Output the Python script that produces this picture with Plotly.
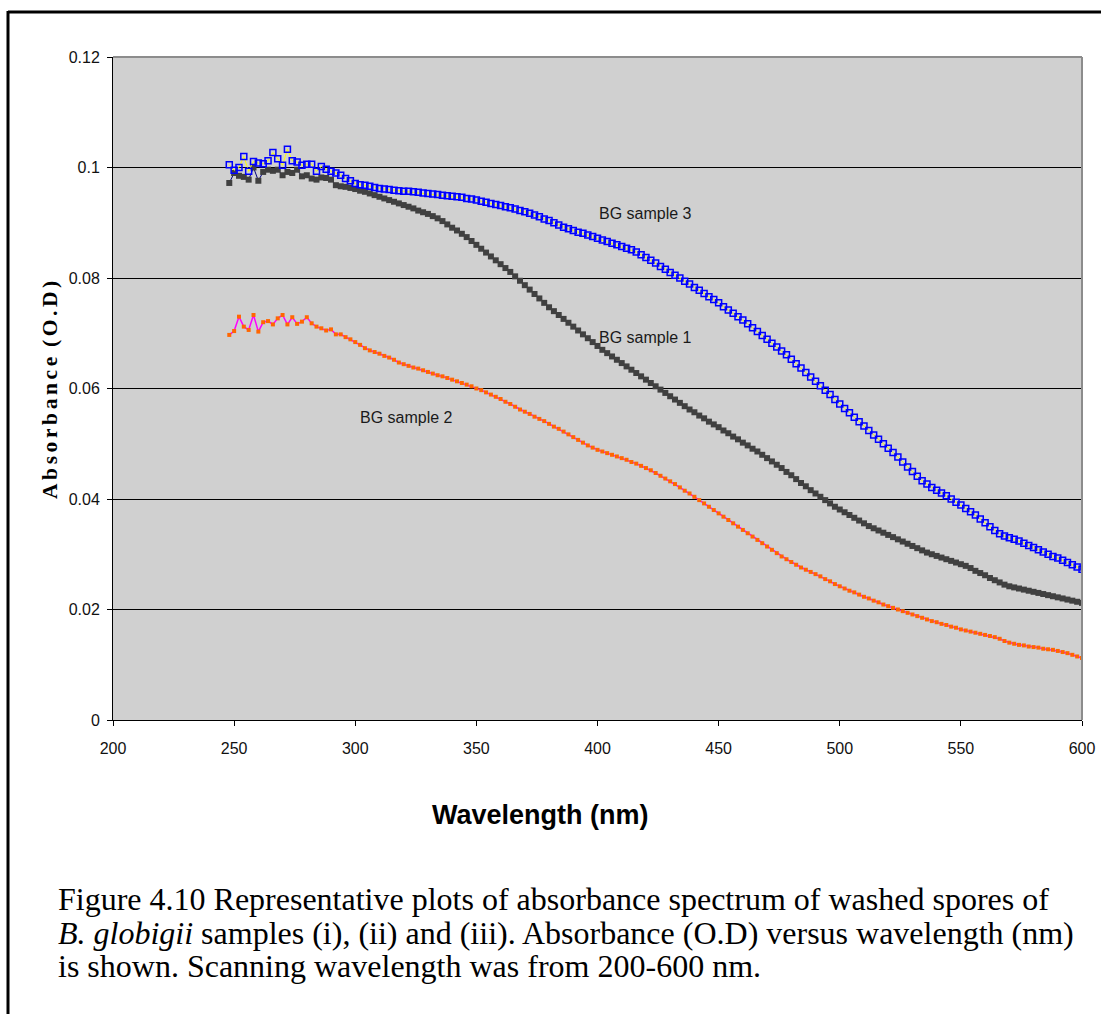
import plotly.graph_objects as go

# Scan grid (nm)
wavelength_nm = list(range(248, 601, 2))

# BG sample 1 absorbance (O.D)
bg_sample_1 = [
    0.0972,
    0.0990, 0.0985, 0.0983, 0.0978, 0.1000, 0.0976, 0.0992, 0.0996, 0.0994, 0.0996,  # 250-268
    0.0986, 0.0992, 0.0990, 0.0996, 0.0984, 0.0986, 0.0980, 0.0978, 0.0982, 0.0981,  # 270-288
    0.0978, 0.0968, 0.0966, 0.0965, 0.0963, 0.0961, 0.0958, 0.0956, 0.0953, 0.0950,  # 290-308
    0.0947, 0.0944, 0.0941, 0.0938, 0.0935, 0.0932, 0.0929, 0.0926, 0.0922, 0.0919,  # 310-328
    0.0916, 0.0912, 0.0908, 0.0903, 0.0897, 0.0891, 0.0886, 0.0880, 0.0874, 0.0867,  # 330-348
    0.0860, 0.0853, 0.0846, 0.0839, 0.0832, 0.0825, 0.0818, 0.0811, 0.0803, 0.0795,  # 350-368
    0.0787, 0.0779, 0.0771, 0.0763, 0.0755, 0.0747, 0.0740, 0.0733, 0.0726, 0.0719,  # 370-388
    0.0712, 0.0705, 0.0698, 0.0691, 0.0684, 0.0677, 0.0670, 0.0664, 0.0658, 0.0652,  # 390-408
    0.0646, 0.0640, 0.0634, 0.0628, 0.0622, 0.0616, 0.0610, 0.0604, 0.0598, 0.0592,  # 410-428
    0.0586, 0.0580, 0.0574, 0.0568, 0.0562, 0.0557, 0.0551, 0.0546, 0.0540, 0.0535,  # 430-448
    0.0530, 0.0524, 0.0519, 0.0513, 0.0508, 0.0502, 0.0497, 0.0491, 0.0486, 0.0480,  # 450-468
    0.0474, 0.0468, 0.0462, 0.0456, 0.0449, 0.0443, 0.0436, 0.0429, 0.0423, 0.0416,  # 470-488
    0.0410, 0.0404, 0.0398, 0.0392, 0.0386, 0.0381, 0.0376, 0.0371, 0.0366, 0.0361,  # 490-508
    0.0356, 0.0351, 0.0347, 0.0343, 0.0339, 0.0335, 0.0331, 0.0327, 0.0323, 0.0319,  # 510-528
    0.0315, 0.0311, 0.0307, 0.0303, 0.0300, 0.0297, 0.0294, 0.0291, 0.0288, 0.0285,  # 530-548
    0.0282, 0.0279, 0.0275, 0.0270, 0.0266, 0.0262, 0.0257, 0.0253, 0.0249, 0.0245,  # 550-568
    0.0242, 0.0240, 0.0238, 0.0236, 0.0234, 0.0232, 0.0230, 0.0228, 0.0226, 0.0224,  # 570-588
    0.0222, 0.0220, 0.0218, 0.0216, 0.0214, 0.0212,                                  # 590-600
]

# BG sample 2 absorbance (O.D)
bg_sample_2 = [
    0.0697,
    0.0704, 0.0730, 0.0712, 0.0706, 0.0733, 0.0703, 0.0720, 0.0722, 0.0716, 0.0727,  # 250-268
    0.0733, 0.0716, 0.0729, 0.0717, 0.0721, 0.0729, 0.0718, 0.0712, 0.0709, 0.0705,  # 270-288
    0.0707, 0.0698, 0.0698, 0.0693, 0.0689, 0.0684, 0.0679, 0.0673, 0.0669, 0.0666,  # 290-308
    0.0663, 0.0659, 0.0656, 0.0652, 0.0647, 0.0644, 0.0641, 0.0638, 0.0636, 0.0633,  # 310-328
    0.0630, 0.0627, 0.0624, 0.0622, 0.0619, 0.0616, 0.0613, 0.0610, 0.0607, 0.0604,  # 330-348
    0.0600, 0.0597, 0.0593, 0.0589, 0.0585, 0.0581, 0.0576, 0.0572, 0.0567, 0.0562,  # 350-368
    0.0558, 0.0554, 0.0549, 0.0545, 0.0541, 0.0536, 0.0531, 0.0527, 0.0522, 0.0517,  # 370-388
    0.0512, 0.0507, 0.0502, 0.0497, 0.0493, 0.0489, 0.0486, 0.0483, 0.0480, 0.0477,  # 390-408
    0.0474, 0.0471, 0.0467, 0.0464, 0.0460, 0.0456, 0.0452, 0.0447, 0.0442, 0.0437,  # 410-428
    0.0432, 0.0427, 0.0421, 0.0415, 0.0410, 0.0404, 0.0398, 0.0392, 0.0386, 0.0380,  # 430-448
    0.0374, 0.0368, 0.0362, 0.0356, 0.0350, 0.0344, 0.0338, 0.0332, 0.0326, 0.0320,  # 450-468
    0.0314, 0.0308, 0.0302, 0.0296, 0.0291, 0.0286, 0.0281, 0.0276, 0.0272, 0.0268,  # 470-488
    0.0264, 0.0260, 0.0255, 0.0251, 0.0246, 0.0242, 0.0238, 0.0234, 0.0231, 0.0227,  # 490-508
    0.0223, 0.0220, 0.0216, 0.0213, 0.0209, 0.0206, 0.0203, 0.0200, 0.0197, 0.0194,  # 510-528
    0.0191, 0.0188, 0.0185, 0.0182, 0.0179, 0.0177, 0.0174, 0.0172, 0.0169, 0.0167,  # 530-548
    0.0164, 0.0162, 0.0160, 0.0158, 0.0156, 0.0154, 0.0152, 0.0150, 0.0147, 0.0143,  # 550-568
    0.0140, 0.0138, 0.0136, 0.0135, 0.0133, 0.0132, 0.0131, 0.0129, 0.0128, 0.0127,  # 570-588
    0.0125, 0.0123, 0.0121, 0.0118, 0.0115, 0.0112,                                  # 590-600
]

# BG sample 3 absorbance (O.D)
bg_sample_3 = [
    0.1005,
    0.0995, 0.1000, 0.1020, 0.0993, 0.1011, 0.1008, 0.1007, 0.1012, 0.1027, 0.1016,  # 250-268
    0.1004, 0.1033, 0.1012, 0.1010, 0.1004, 0.1006, 0.1006, 0.0993, 0.1002, 0.0997,  # 270-288
    0.0993, 0.0990, 0.0986, 0.0980, 0.0976, 0.0971, 0.0969, 0.0968, 0.0966, 0.0964,  # 290-308
    0.0962, 0.0961, 0.0960, 0.0959, 0.0958, 0.0957, 0.0957, 0.0956, 0.0955, 0.0954,  # 310-328
    0.0953, 0.0952, 0.0951, 0.0950, 0.0949, 0.0948, 0.0947, 0.0946, 0.0944, 0.0943,  # 330-348
    0.0941, 0.0939, 0.0937, 0.0935, 0.0933, 0.0931, 0.0929, 0.0927, 0.0925, 0.0922,  # 350-368
    0.0920, 0.0917, 0.0914, 0.0911, 0.0907, 0.0904, 0.0900, 0.0896, 0.0892, 0.0889,  # 370-388
    0.0886, 0.0883, 0.0881, 0.0878, 0.0875, 0.0872, 0.0869, 0.0866, 0.0863, 0.0860,  # 390-408
    0.0857, 0.0854, 0.0851, 0.0847, 0.0842, 0.0837, 0.0832, 0.0827, 0.0821, 0.0816,  # 410-428
    0.0810, 0.0805, 0.0800, 0.0794, 0.0789, 0.0783, 0.0778, 0.0772, 0.0766, 0.0761,  # 430-448
    0.0755, 0.0748, 0.0742, 0.0736, 0.0730, 0.0724, 0.0717, 0.0710, 0.0703, 0.0696,  # 450-468
    0.0689, 0.0682, 0.0675, 0.0668, 0.0661, 0.0653, 0.0645, 0.0637, 0.0629, 0.0621,  # 470-488
    0.0613, 0.0605, 0.0597, 0.0589, 0.0580, 0.0572, 0.0564, 0.0556, 0.0548, 0.0540,  # 490-508
    0.0532, 0.0524, 0.0516, 0.0508, 0.0500, 0.0492, 0.0484, 0.0476, 0.0467, 0.0458,  # 510-528
    0.0450, 0.0441, 0.0433, 0.0427, 0.0421, 0.0416, 0.0411, 0.0406, 0.0400, 0.0394,  # 530-548
    0.0389, 0.0383, 0.0377, 0.0371, 0.0364, 0.0357, 0.0350, 0.0343, 0.0337, 0.0333,  # 550-568
    0.0330, 0.0327, 0.0324, 0.0320, 0.0316, 0.0312, 0.0308, 0.0304, 0.0300, 0.0296,  # 570-588
    0.0293, 0.0289, 0.0285, 0.0281, 0.0277, 0.0273,                                  # 590-600
]

x_ticks = [200, 250, 300, 350, 400, 450, 500, 550, 600]
y_ticks = [0, 0.02, 0.04, 0.06, 0.08, 0.1, 0.12]
y_tick_text = ["0", "0.02", "0.04", "0.06", "0.08", "0.1", "0.12"]

# Series labels: (text, wavelength, absorbance)
series_labels = [
    ("BG sample 3", 420, 0.0916),
    ("BG sample 1", 420, 0.0693),
    ("BG sample 2", 321, 0.0548),
]

caption_lines = [
    "Figure 4.10 Representative plots of absorbance spectrum of washed spores of",
    "<i>B. globigii</i> samples (i), (ii) and (iii). Absorbance (O.D) versus wavelength (nm)",
    "is shown. Scanning wavelength was from 200-600 nm.",
]

W, H = 1101, 1014
L, R, T, B = 113, 1082, 57, 720  # plot area in pixels


def px(xp):
    return (xp - L) / (R - L)


def py(yp):
    return (B - yp) / (B - T)


def spaced(word, gap="\u200a\u200a"):
    # letter-spaced text built from hair spaces
    return gap.join(word)


SANS = "Liberation Sans, Arial, sans-serif"
SERIF = "Liberation Serif, Times New Roman, serif"

fig = go.Figure()

fig.add_trace(go.Scatter(
    x=wavelength_nm, y=bg_sample_1, mode="lines+markers", name="BG sample 1",
    line=dict(color="#000080", width=1),
    marker=dict(symbol="square", size=6, color="#404040", line=dict(width=0)),
))
fig.add_trace(go.Scatter(
    x=wavelength_nm, y=bg_sample_2, mode="lines+markers", name="BG sample 2",
    line=dict(color="#FF00FF", width=1.5),
    marker=dict(symbol="square", size=4, color="#FF6600", line=dict(width=0)),
))
fig.add_trace(go.Scatter(
    x=wavelength_nm, y=bg_sample_3, mode="lines+markers", name="BG sample 3",
    line=dict(color="#FFFF00", width=1),
    marker=dict(symbol="square-open", size=6, color="#0000FF", line=dict(width=1.5)),
))

annotations = []
for text, wl, od in series_labels:
    annotations.append(dict(
        x=wl, y=od, xref="x", yref="y", text=text, showarrow=False,
        xanchor="center", yanchor="middle",
        font=dict(family=SANS, size=16, color="#1a1a1a"),
    ))

annotations.append(dict(
    x=px(540), y=py(815), xref="paper", yref="paper", text="<b>Wavelength (nm)</b>",
    xanchor="center", yanchor="middle",
    showarrow=False, font=dict(family=SANS, size=27, color="#000"),
))
annotations.append(dict(
    x=px(50), y=py(390), xref="paper", yref="paper",
    text="<b>" + spaced("Absorbance") + "\u2009 " + spaced("(O.D)") + "</b>",
    xanchor="center", yanchor="middle",
    textangle=-90, showarrow=False, font=dict(family=SERIF, size=21.5, color="#000"),
))
for i, line in enumerate(caption_lines):
    annotations.append(dict(
        x=px(56), y=py(899 + 33.5 * i), xref="paper", yref="paper",
        xanchor="left", yanchor="middle", text=line, align="left", showarrow=False,
        font=dict(family=SERIF, size=32, color="#000"),
    ))

shapes = [
    # plot area frame: grey top and right edges
    dict(type="line", xref="paper", yref="paper", x0=0, x1=1, y0=1, y1=1,
         line=dict(color="#8c8c8c", width=2)),
    dict(type="line", xref="paper", yref="paper", x0=1, x1=1, y0=0, y1=1,
         line=dict(color="#8c8c8c", width=2)),
    # outer figure border (top and left)
    dict(type="line", xref="paper", yref="paper", x0=px(8), x1=px(1110), y0=py(12), y1=py(12),
         line=dict(color="#000", width=3)),
    dict(type="line", xref="paper", yref="paper", x0=px(8), x1=px(8), y0=py(11), y1=py(1014),
         line=dict(color="#000", width=3)),
]

fig.update_layout(
    width=W, height=H, autosize=False,
    margin=dict(l=L, r=W - R, t=T, b=H - B, pad=0),
    paper_bgcolor="#FFFFFF", plot_bgcolor="#D0D0D0",
    showlegend=False,
    annotations=annotations, shapes=shapes,
    xaxis=dict(
        range=[200, 600], tickvals=x_ticks, ticks="outside", ticklen=5, tickcolor="#000",
        showline=True, linecolor="#000", linewidth=1, showgrid=False, zeroline=False,
        automargin=False,
        tickfont=dict(family=SANS, size=16, color="#111"), ticklabelstandoff=9,
    ),
    yaxis=dict(
        range=[0, 0.12], tickvals=y_ticks, ticktext=y_tick_text, ticks="outside", ticklen=5,
        tickcolor="#000", showline=True, linecolor="#000", linewidth=1,
        showgrid=True, gridcolor="#000", gridwidth=1, zeroline=False,
        automargin=False,
        tickfont=dict(family=SANS, size=16, color="#111"), ticklabelstandoff=4,
    ),
)

fig.write_html("out.html")
